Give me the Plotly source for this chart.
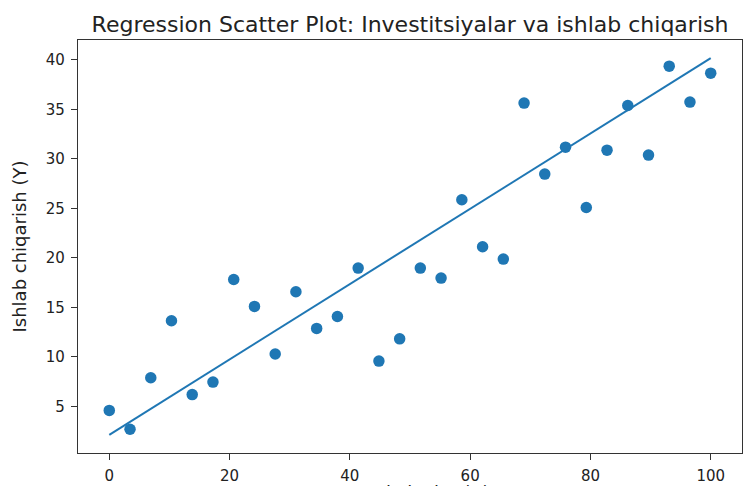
import plotly.graph_objects as go

x_vals = [0.0, 3.45, 6.9, 10.34, 13.79, 17.24, 20.69, 24.14, 27.59, 31.03,
          34.48, 37.93, 41.38, 44.83, 48.28, 51.72, 55.17, 58.62, 62.07, 65.52,
          68.97, 72.41, 75.86, 79.31, 82.76, 86.21, 89.66, 93.1, 96.55, 100.0]
y_vals = [4.6, 2.7, 7.9, 13.65, 6.2, 7.46, 17.82, 15.1, 10.3, 16.58,
          12.88, 14.08, 18.97, 9.58, 11.83, 18.97, 17.96, 25.87, 21.12, 19.88,
          35.63, 28.46, 31.18, 25.09, 30.88, 35.39, 30.38, 39.36, 35.73, 38.65]
reg_intercept = 2.14
reg_slope = 0.3803
x_ticks = [0, 20, 40, 60, 80, 100]
y_ticks = [5, 10, 15, 20, 25, 30, 35, 40]

line_x = [min(x_vals), max(x_vals)]
line_y = [reg_intercept + reg_slope * v for v in line_x]

blue = "#1f77b4"
fig = go.Figure()
fig.add_trace(go.Scatter(x=x_vals, y=y_vals, mode="markers",
                         marker=dict(color=blue, size=11.5, line=dict(width=0)),
                         showlegend=False))
fig.add_trace(go.Scatter(x=line_x, y=line_y, mode="lines",
                         line=dict(color=blue, width=2), showlegend=False))

font = "DejaVu Sans"
fig.update_layout(
    width=743, height=486,
    margin=dict(l=78, r=1, t=40, b=33),
    paper_bgcolor="white", plot_bgcolor="white",
    font=dict(family=font, size=15, color="#222"),
    title=dict(text="Regression Scatter Plot: Investitsiyalar va ishlab chiqarish",
               xref="paper", x=0.5, xanchor="center", y=0.949, yanchor="middle",
               font=dict(family=font, size=22, color="#222")),
)
axis_common = dict(showgrid=False, zeroline=False, showline=True, linecolor="#333",
                   linewidth=1.3, mirror=True, ticks="outside", ticklen=6,
                   tickcolor="#333", tickwidth=1.2, ticklabelstandoff=3,
                   tickfont=dict(family=font, size=15, color="#222"))
fig.update_xaxes(range=[-5.2, 105.2], tickvals=x_ticks, **axis_common)
fig.update_yaxes(range=[0.3, 42.0], tickvals=y_ticks,
                 title=dict(text="Ishlab chiqarish (Y)", standoff=14,
                            font=dict(family=font, size=18, color="#222")),
                 **axis_common)
fig.add_annotation(text="Investitsiyalar (X)", xref="paper", yref="paper",
                   x=0.5, y=0, yshift=-27, xanchor="center", yanchor="top",
                   showarrow=False, font=dict(family=font, size=18, color="#222"))

fig.write_html("out.html", config={"displayModeBar": False},
               post_script="document.body.style.margin='0';document.body.style.overflow='hidden';")
